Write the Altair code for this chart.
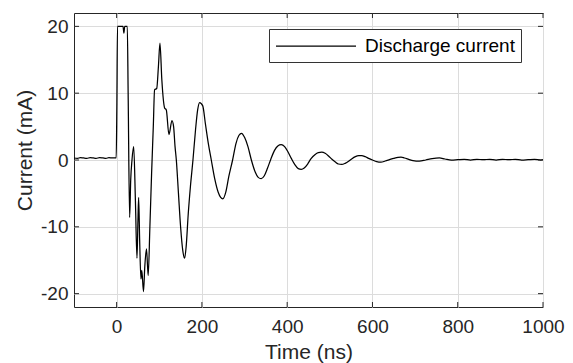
import altair as alt
import pandas as pd

# Discharge current waveform
time_ns = [
    -100, -92, -85, -78, -70, -62, -55, -48, -40, -32, -25, -18, -10, -4, -1,
    0.5, 2, 15, 17, 19, 25, 27, 30.5, 33, 36, 40, 44, 47.7, 50, 51.6, 54, 57, 59,
    63, 66, 70, 74, 78, 82, 86, 89, 94, 98, 101.6, 106, 112.5, 116.5, 122.7,
    129.7, 133.6, 137, 140, 145, 150, 155, 159.4, 163, 168, 173, 179, 185, 190,
    194.6, 202, 208, 215, 222, 230, 238, 244, 249, 256, 263, 272, 280, 287, 293,
    300, 308, 316, 325, 332, 339, 346, 354, 362, 370, 378, 386, 394, 402, 410,
    418, 426, 433, 440, 448, 456, 465, 473, 481, 489, 497, 505, 513, 520, 528,
    536, 544, 552, 560, 568, 575, 583, 591, 600, 610, 620, 630, 640, 650, 660,
    667, 675, 685, 695, 710, 725, 740, 757, 770, 785, 800, 815, 830, 845, 860,
    875, 890, 905, 920, 935, 950, 965, 980, 995, 1000,
]
current_ma = [
    0.3, 0.25, 0.35, 0.3, 0.25, 0.35, 0.3, 0.25, 0.35, 0.3, 0.25, 0.35, 0.3, 0.3, 0.3,
    8, 20, 20, 19, 20, 20, 10, -8.6, -3, 0, 2.0, -6, -14.7, -9, -5.6, -12, -17.8, -16.5,
    -19.7, -16, -13.3, -17.3, -10, -2, 5, 10.5, 10.7, 14, 17.5, 12, 7.8, 7.5, 3.8,
    5.9, 5.0, 2, 0, -5, -10, -13.5, -14.7, -13, -8, -4, 0, 4.5, 7.5,
    8.6, 8.1, 5.5, 2.5, 0, -2.8, -4.8, -5.6, -5.8, -4.8, -2.5, 0, 2.5, 3.7, 4.0,
    3.4, 2, 0, -1.8, -2.6, -2.8, -2.4, -1.2, 0.2, 1.4, 2.1, 2.3, 2.0, 1.2, 0.2,
    -0.7, -1.3, -1.4, -1.2, -0.6, 0.2, 0.8, 1.1, 1.16, 1.0, 0.6, 0.1, -0.3, -0.6, -0.67,
    -0.5, -0.2, 0.2, 0.5, 0.65, 0.67, 0.5, 0.25, 0.0, -0.25, -0.33, -0.15, 0.05, 0.25, 0.4,
    0.42, 0.3, 0.1, -0.1, -0.18, 0.0, 0.2, 0.3, 0.15, 0.0, 0.05, 0.1, 0.0, 0.1, 0.05,
    0.1, 0.0, 0.1, 0.05, 0.1, 0.0, 0.05, 0.1, 0.0, 0.05,
]
series_name = "Discharge current"

x_ticks = [0, 200, 400, 600, 800, 1000]
y_ticks = [-20, -10, 0, 10, 20]
x_domain = [-100, 1000]
y_domain = [-22, 22]

W, H = 469, 294
FONT = "Liberation Sans"
INK = "#262626"

df = pd.DataFrame({"t": time_ns, "i": current_ma, "series": series_name})
xt = pd.DataFrame({"v": x_ticks})
yt = pd.DataFrame({"v": y_ticks})

xscale = alt.Scale(domain=x_domain, nice=False, zero=False)
yscale = alt.Scale(domain=y_domain, nice=False, zero=False)

xaxis = alt.Axis(values=x_ticks, title="Time (ns)", grid=True,
                 ticks=False, tickSize=0, domain=False, labelFlush=False,
                 labelExpr="'' + datum.value",
                 labelPadding=10, labelFontSize=19,
                 titleFontSize=21, titleFontWeight="normal",
                 titleBaseline="top", titleY=34)
yaxis = alt.Axis(values=y_ticks, title="Current (mA)", grid=True,
                 ticks=False, tickSize=0, domain=False, labelFlush=False,
                 labelExpr="'' + datum.value",
                 labelPadding=6, labelFontSize=19,
                 titleFontSize=21, titleFontWeight="normal",
                 titleBaseline="top", titleX=-60, titleY=137)

line = alt.Chart(df).mark_line(strokeWidth=1.25, interpolate="monotone").encode(
    x=alt.X("t:Q", scale=xscale, axis=xaxis, title="Time (ns)"),
    y=alt.Y("i:Q", scale=yscale, axis=yaxis, title="Current (mA)"),
    color=alt.Color("series:N", scale=alt.Scale(range=["black"]),
                    legend=alt.Legend(title=None, orient="none",
                                      legendX=195, legendY=16,
                                      symbolType="M-1,0H7", symbolSize=400,
                                      symbolStrokeWidth=1.25,
                                      symbolStrokeColor="black",
                                      labelFontSize=19, labelOffset=68,
                                      labelColor="black",
                                      strokeColor="#333333", fillColor="white",
                                      padding=6, cornerRadius=0)),
)

tick_len = 5
xb = alt.Chart(xt).mark_rule(color=INK, strokeWidth=1).encode(
    x=alt.X("v:Q", scale=xscale, axis=xaxis, title="Time (ns)"),
    y=alt.value(H), y2=alt.value(H - tick_len))
xtop = alt.Chart(xt).mark_rule(color=INK, strokeWidth=1).encode(
    x=alt.X("v:Q", scale=xscale, axis=xaxis, title="Time (ns)"),
    y=alt.value(0), y2=alt.value(tick_len))
yl = alt.Chart(yt).mark_rule(color=INK, strokeWidth=1).encode(
    y=alt.Y("v:Q", scale=yscale, axis=yaxis, title="Current (mA)"),
    x=alt.value(0), x2=alt.value(tick_len))
yr = alt.Chart(yt).mark_rule(color=INK, strokeWidth=1).encode(
    y=alt.Y("v:Q", scale=yscale, axis=yaxis, title="Current (mA)"),
    x=alt.value(W), x2=alt.value(W - tick_len))

chart = alt.layer(line, xb, xtop, yl, yr).properties(
    width=W, height=H,
    autosize=alt.AutoSizeParams(type="none"),
    padding={"left": 66, "top": 5, "right": 22, "bottom": 56},
).configure_view(
    stroke=INK, strokeWidth=1
).configure_axis(
    labelFont=FONT, titleFont=FONT, labelColor=INK, titleColor=INK,
    gridColor="#dcdcdc", gridWidth=1,
).configure_legend(
    labelFont=FONT
)

chart.save("out.html", embed_options={"renderer": "svg", "actions": False})
